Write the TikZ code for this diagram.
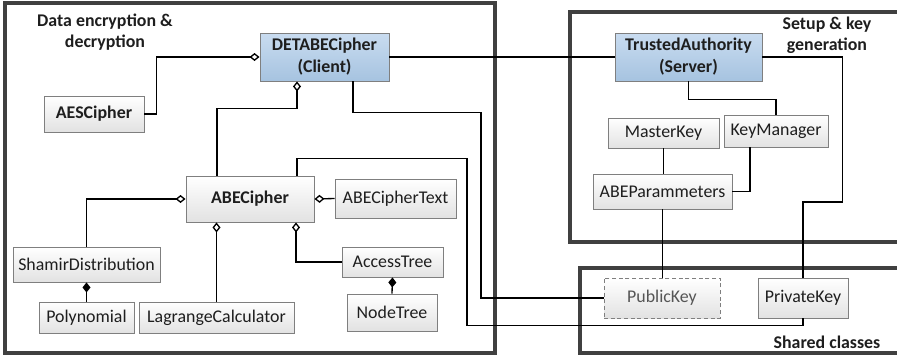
\documentclass[tikz,border=0pt]{standalone}
\usepackage{fontspec}
\setmainfont{Carlito}
\usetikzlibrary{positioning,calc,arrows.meta}

\definecolor{frameedge}{HTML}{404040}
\definecolor{clsedge}{HTML}{7F7F7F}
\definecolor{clsfill}{HTML}{E2E2E2}
\definecolor{clstext}{HTML}{1E1E1E}
\definecolor{mainfilltop}{HTML}{C9DCF0}
\definecolor{mainfillbot}{HTML}{A6C3E0}
\definecolor{sharedtext}{HTML}{555555}

\tikzset{
  dims/.style 2 args={minimum width=#1*0.75pt, minimum height=#2*0.75pt}
}

\begin{document}
\begin{tikzpicture}[
      x=0.75pt, y=-0.75pt, % <-- ONE UNIT IS ONE PIXEL, Y POINTS DOWN
      cls/.style={draw=clsedge, line width=0.7pt, top color=white, bottom color=clsfill,
        text=clstext, inner sep=0pt, align=center, font=\fontsize{13.4}{16.5}\selectfont},
      mainclass/.style={cls, top color=mainfilltop, bottom color=mainfillbot, font=\fontsize{13.4}{16.5}\selectfont\bfseries},
      sharedclass/.style={cls, densely dashed, text=sharedtext},
      group/.style={draw=frameedge, line width=2.6pt},
      grouplabel/.style={align=center, text=clstext, font=\fontsize{13.4}{16}\selectfont\bfseries},
      link/.style={line width=1pt},
      agg/.style={link, -{Diamond[open, length=7.5pt, width=6pt]}},
      comp/.style={link, -{Diamond[length=7.5pt, width=6pt]}}
    ]

    \clip (0,0) rectangle (897,357);

    % Package frames
    \draw[group] (5,3) rectangle (495,353);
    \draw[group] (570,12) rectangle (910,242);
    \draw[group] (580,268) rectangle (910,353);

    \node[grouplabel] (encLabel) at (105,32) {Data encryption \&\\decryption};
    \node[grouplabel] (setupLabel) at (827,35) {Setup \& key\\generation};
    \node[grouplabel] (sharedLabel) at (827,342) {Shared classes};

    % Client side classes
    \node[mainclass, dims={129}{48}] (client) at (324.5,57) {DETABECipher\\(Client)};
    \node[cls, dims={100}{36}, font=\fontsize{13.4}{16}\selectfont\bfseries] (aes) at (94,114) {AESCipher};
    \node[cls, dims={128}{46}, font=\fontsize{13.4}{16}\selectfont\bfseries] (abe) at (250,199) {ABECipher};
    \node[cls, dims={121}{39}] (abeText) at (395.5,198.5) {ABECipherText};
    \node[cls, dims={101}{30}] (accessTree) at (392.5,262) {AccessTree};
    \node[cls, dims={90}{37}] (nodeTree) at (392,312.5) {NodeTree};
    \node[cls, dims={147}{35}] (shamir) at (86.5,264.5) {ShamirDistribution};
    \node[cls, dims={95}{31}] (poly) at (86.5,317.5) {Polynomial};
    \node[cls, dims={155}{31}] (lagrange) at (216.5,317.5) {LagrangeCalculator};

    % Server side classes
    \node[mainclass, dims={147}{48}] (server) at (688.5,57) {TrustedAuthority\\(Server)};
    \node[cls, dims={111}{30}] (masterKey) at (663.5,133) {MasterKey};
    \node[cls, dims={104}{32}] (keyManager) at (776,131) {KeyManager};
    \node[cls, dims={139}{35}] (params) at (662.5,191.5) {ABEParammeters};

    % Shared classes
    \node[sharedclass, dims={116}{40}] (publicKey) at (662,298) {PublicKey};
    \node[cls, dims={90}{40}] (privateKey) at (803,298) {PrivateKey};

    % Aggregations
    \draw[agg] (aes.east) -- ++(12,0) |- (client.west);
    \draw[agg] ($(abe.north)+(-33,0)$) -- ++(0,-67) -| ($(client.south)+(-27.5,0)$);
    \draw[agg] (shamir.north) |- (abe.west);
    \draw[agg] (lagrange.north) -- (lagrange.north |- abe.south);
    \draw[agg] (accessTree.west) -| ($(abe.south)+(46,0)$);
    \draw[agg] (abeText.west) -- (abe.east);

    % Compositions
    \draw[comp] (poly.north) -- (shamir.south);
    \draw[comp] (nodeTree.north) -- (accessTree.south);

    % Associations
    \draw[link] (client.east) -- (server.west);
    \draw[link] ($(client.south)+(28.5,0)$) -- ++(0,31) -- ++(128,0) |- (publicKey.west);
    \draw[link] ($(abe.north)+(47,0)$) -- ++(0,-17) -- ++(170,0) -- ++(0,167) -| (privateKey.south);
    \draw[link] (server.east) -- ++(80,0) -- ++(0,145) -| (privateKey.north);
    \draw[link] (server.south) -- ++(0,18) -| (keyManager.north);
    \draw[link] ($(keyManager.south)+(-26,0)$) |- (params.east);
    \draw[link] (masterKey.south) -- (masterKey.south |- params.north);
    \draw[link] (params.south) -- (params.south |- publicKey.north);

  \end{tikzpicture}
\end{document}
